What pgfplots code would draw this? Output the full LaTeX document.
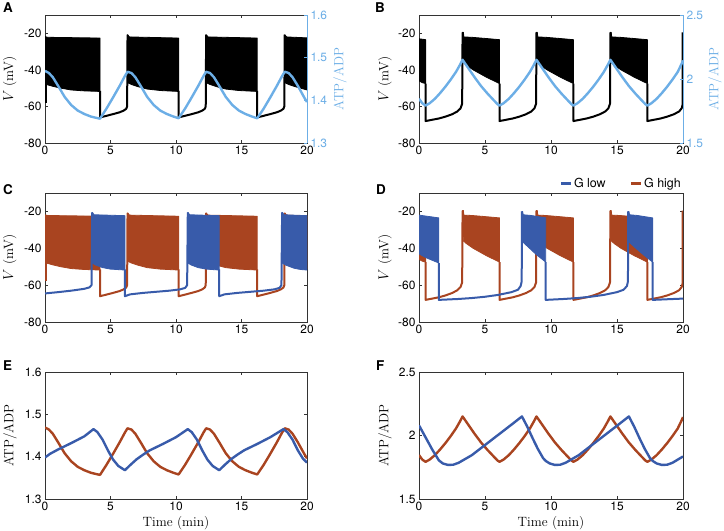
\documentclass[border=0pt]{standalone}
\usepackage{fontspec}
\setsansfont{TeX Gyre Heros}
\usepackage{pgfplots}
\usepackage{pgfplotstable}
\pgfplotsset{compat=1.18}

\definecolor{ltblue}{RGB}{108,174,230}
\definecolor{gblue}{RGB}{56,91,170}
\definecolor{gred}{RGB}{169,68,32}

\newcommand\tl{\sffamily\fontsize{12}{14}\selectfont}
\newcommand\lb{\fontsize{13.5}{15}\selectfont}

\pgfplotstableread{
x y
0 1.469
0.3 1.464
0.6 1.454
1.0 1.434
1.5 1.408
2.0 1.389
2.5 1.376
3.0 1.368
3.5 1.362
3.9 1.359
4.2 1.357
4.7 1.381
5.2 1.407
5.7 1.434
6.1 1.457
6.3 1.467
6.6 1.464
6.9 1.454
7.3 1.434
7.8 1.408
8.3 1.389
8.8 1.376
9.3 1.368
9.8 1.362
10.2 1.358
10.7 1.381
11.2 1.407
11.7 1.434
12.1 1.457
12.3 1.467
12.6 1.464
12.9 1.454
13.3 1.434
13.8 1.408
14.3 1.389
14.8 1.376
15.3 1.368
15.8 1.362
16.2 1.358
16.7 1.381
17.2 1.407
17.7 1.434
18.1 1.457
18.3 1.467
18.6 1.464
18.9 1.454
19.3 1.434
19.8 1.406
20 1.396
}\atpHighOne

\pgfplotstableread{
x y
0 1.398
0.4 1.407
1 1.417
2 1.432
3 1.448
3.7 1.465
4.0 1.458
4.4 1.440
4.8 1.415
5.2 1.393
5.6 1.378
6.1 1.368
6.5 1.380
7 1.394
7.5 1.405
8 1.415
9 1.430
10 1.446
10.9 1.465
11.2 1.458
11.6 1.440
12.0 1.415
12.4 1.393
12.8 1.378
13.3 1.368
13.7 1.380
14.2 1.394
14.7 1.405
15.2 1.415
16.2 1.430
17.2 1.446
18.2 1.465
18.5 1.458
18.9 1.440
19.3 1.415
19.7 1.395
20 1.386
}\atpLowOne

\pgfplotstableread{
x y
0 1.846
0.25 1.810
0.5 1.793
0.8 1.810
1.2 1.845
1.6 1.890
2.0 1.940
2.4 1.995
2.8 2.055
3.1 2.110
3.3 2.150
3.7 2.090
4.2 2.015
4.7 1.945
5.2 1.885
5.7 1.830
5.95 1.803
6.1 1.793
6.4 1.810
6.8 1.845
7.2 1.890
7.6 1.940
8.0 1.995
8.4 2.055
8.7 2.110
8.9 2.150
9.3 2.090
9.8 2.015
10.3 1.945
10.8 1.885
11.3 1.830
11.55 1.803
11.7 1.793
12.0 1.810
12.4 1.845
12.8 1.890
13.2 1.940
13.6 1.995
14.0 2.055
14.3 2.110
14.5 2.150
14.9 2.090
15.4 2.015
15.9 1.945
16.4 1.885
16.9 1.830
17.15 1.803
17.3 1.793
17.6 1.810
18.0 1.845
18.4 1.890
18.8 1.940
19.2 1.995
19.6 2.055
19.9 2.120
20 2.145
}\atpHighTwo

\pgfplotstableread{
x y
0 2.080
0.5 1.985
1.0 1.890
1.5 1.805
1.8 1.780
2.2 1.768
2.6 1.770
3 1.785
4 1.845
5 1.925
6 2.005
7 2.085
7.8 2.150
8.2 2.070
8.6 1.980
9.0 1.895
9.4 1.822
9.6 1.800
9.9 1.780
10.3 1.768
10.7 1.770
11.1 1.785
12.1 1.845
13.1 1.925
14.1 2.005
15.1 2.085
15.9 2.150
16.3 2.070
16.7 1.980
17.1 1.895
17.5 1.822
17.7 1.800
18.0 1.780
18.4 1.768
18.8 1.770
19.2 1.785
20 1.835
}\atpLowTwo

\pgfplotsset{
  panel/.style={scale only axis, anchor=south west, xmin=0, xmax=20, xtick={0,5,10,15,20},
    tick align=inside, major tick length=3bp,
    axis line style={black!80, line width=0.7bp},
    every tick/.style={black!80, line width=0.6bp},
    tick label style={font=\tl},
    /pgf/number format/assume math mode=true,
    label style={font=\lb}},
  vpanel/.style={panel, ymin=-80, ymax=-10, ytick={-80,-60,-40,-20}, ylabel={$V$ (mV)}},
  rightatp/.style={scale only axis, anchor=south west, xmin=0, xmax=20,
    axis x line=none, axis y line*=right, y axis line style={ltblue, line width=0.8bp, -},
    every outer y axis line/.append style={-},
    tick align=inside, major tick length=3bp,
    ytick style={ltblue, line width=0.6bp},
    yticklabel style={ltblue, font=\tl},
    /pgf/number format/assume math mode=true,
    ylabel={ATP/ADP}, ylabel style={ltblue, font=\lb, anchor=center}},
  sline/.style={line width=2.0bp, line join=round},
  burst/.style={line width=0.8bp, line join=round},
  atp/.style={line width=2.4bp, line join=round},
}

\begin{document}
\begin{tikzpicture}
\path[use as bounding box] (0,0) rectangle (724bp,531bp);

% ---------------- A ----------------
\begin{axis}[vpanel, at={(45bp,388bp)}, width=262bp, height=128bp, ytick pos=left,
  ylabel style={at={(axis description cs:-0.134,0.5)}, anchor=center}]
\addplot[burst, fill=black, draw=black] coordinates {(0,-21.8)(0.2,-22.2)(4.2,-22.6)(4.2,-51.8)(3,-51.5)(2,-51)(1.2,-50)(0.6,-49)(0,-47.8)} -- cycle;
\addplot[burst, fill=black, draw=black] coordinates {(6.3,-20.8)(6.45,-22)(10.2,-22.6)(10.2,-51.8)(8.8,-51.3)(7.8,-50.5)(7.1,-49.2)(6.6,-48)(6.3,-47)} -- cycle;
\addplot[burst, fill=black, draw=black] coordinates {(12.3,-20.8)(12.45,-22)(16.2,-22.6)(16.2,-51.8)(14.8,-51.3)(13.8,-50.5)(13.1,-49.2)(12.6,-48)(12.3,-47)} -- cycle;
\addplot[burst, fill=black, draw=black] coordinates {(18.3,-20.8)(18.45,-22)(20,-22.5)(20,-51)(19.8,-50.6)(19.1,-49.2)(18.6,-48)(18.3,-47)} -- cycle;
\addplot[sline, black] coordinates {(0.05,-47)(0.05,-58)};
\addplot[sline, black] coordinates {(4.2,-51.5)(4.2,-66)(4.6,-65.3)(5.2,-64.2)(5.7,-63.2)(6.0,-62.3)(6.2,-61.3)(6.27,-60)(6.3,-20.8)};
\addplot[sline, black] coordinates {(10.2,-51.5)(10.2,-66)(10.6,-65.3)(11.2,-64.2)(11.7,-63.2)(12.0,-62.3)(12.2,-61.3)(12.27,-60)(12.3,-20.8)};
\addplot[sline, black] coordinates {(16.2,-51.5)(16.2,-66)(16.6,-65.3)(17.2,-64.2)(17.7,-63.2)(18.0,-62.3)(18.2,-61.3)(18.27,-60)(18.3,-20.8)};
\end{axis}
\begin{axis}[rightatp, at={(45bp,388bp)}, width=262bp, height=128bp,
  ymin=1.3, ymax=1.6, ytick={1.3,1.4,1.5,1.6},
  ylabel style={at={(axis description cs:1.126,0.5)}}]
\addplot[atp, ltblue] table {\atpHighOne};
\end{axis}

% ---------------- B ----------------
\begin{axis}[vpanel, at={(419bp,388bp)}, width=264bp, height=128bp, ytick pos=left,
  ylabel style={at={(axis description cs:-0.129,0.5)}, anchor=center}]
\addplot[burst, fill=black, draw=black] coordinates {(0,-23)(0.5,-23.5)(0.5,-47.5)(0.25,-47)(0,-46)} -- cycle;
\addplot[burst, fill=black, draw=black] coordinates {(3.3,-19.5)(3.36,-19.5)(3.4,-22)(4,-22.2)(5,-22.8)(6.1,-23.5)(6.1,-47.5)(5.1,-44)(4.1,-40)(3.6,-37.5)(3.36,-36)} -- cycle;
\addplot[burst, fill=black, draw=black] coordinates {(8.9,-19.5)(8.96,-19.5)(9.0,-22)(9.6,-22.2)(10.6,-22.8)(11.7,-23.5)(11.7,-47.5)(10.7,-44)(9.7,-40)(9.2,-37.5)(8.96,-36)} -- cycle;
\addplot[burst, fill=black, draw=black] coordinates {(14.5,-19.5)(14.56,-19.5)(14.6,-22)(15.2,-22.2)(16.2,-22.8)(17.3,-23.5)(17.3,-47.5)(16.3,-44)(15.3,-40)(14.8,-37.5)(14.56,-36)} -- cycle;
\addplot[sline, black] coordinates {(0.5,-47.5)(0.5,-68)(1,-67.3)(1.5,-66.6)(2,-65.6)(2.5,-64.3)(2.9,-62.8)(3.15,-61)(3.27,-58.5)(3.3,-19.5)};
\addplot[sline, black] coordinates {(6.1,-47.5)(6.1,-68)(6.6,-67.3)(7.1,-66.6)(7.6,-65.6)(8.1,-64.3)(8.5,-62.8)(8.75,-61)(8.87,-58.5)(8.9,-19.5)};
\addplot[sline, black] coordinates {(11.7,-47.5)(11.7,-68)(12.2,-67.3)(12.7,-66.6)(13.2,-65.6)(13.7,-64.3)(14.1,-62.8)(14.35,-61)(14.47,-58.5)(14.5,-19.5)};
\addplot[sline, black] coordinates {(17.3,-47.5)(17.3,-68)(17.8,-67.3)(18.3,-66.6)(18.8,-65.6)(19.3,-64.3)(19.7,-62.8)(19.9,-61)(19.97,-59)(19.97,-19.5)};
\end{axis}
\begin{axis}[rightatp, at={(419bp,388bp)}, width=264bp, height=128bp,
  ymin=1.5, ymax=2.5, ytick={1.5,2,2.5},
  ylabel style={at={(axis description cs:1.121,0.5)}}]
\addplot[atp, ltblue] table {\atpHighTwo};
\end{axis}

% ---------------- C ----------------
\begin{axis}[vpanel, at={(45bp,209bp)}, width=262bp, height=129bp,
  ylabel style={at={(axis description cs:-0.134,0.5)}, anchor=center}]
% G high (red)
\addplot[burst, fill=gred, draw=gred] coordinates {(0,-21.8)(0.2,-22.2)(4.2,-22.6)(4.2,-51.8)(3,-51.5)(2,-51)(1.2,-50)(0.6,-49)(0,-47.8)} -- cycle;
\addplot[burst, fill=gred, draw=gred] coordinates {(6.3,-20.8)(6.45,-22)(10.2,-22.6)(10.2,-51.8)(8.8,-51.3)(7.8,-50.5)(7.1,-49.2)(6.6,-48)(6.3,-47)} -- cycle;
\addplot[burst, fill=gred, draw=gred] coordinates {(12.3,-20.8)(12.45,-22)(16.2,-22.6)(16.2,-51.8)(14.8,-51.3)(13.8,-50.5)(13.1,-49.2)(12.6,-48)(12.3,-47)} -- cycle;
\addplot[burst, fill=gred, draw=gred] coordinates {(18.3,-20.8)(18.45,-22)(20,-22.5)(20,-51)(19.8,-50.6)(19.1,-49.2)(18.6,-48)(18.3,-47)} -- cycle;
\addplot[sline, gred] coordinates {(0.05,-47)(0.05,-58)};
\addplot[sline, gred] coordinates {(4.2,-51.5)(4.2,-66)(4.6,-65.3)(5.2,-64.2)(5.7,-63.2)(6.0,-62.3)(6.2,-61.3)(6.27,-60)(6.3,-20.8)};
\addplot[sline, gred] coordinates {(10.2,-51.5)(10.2,-66)(10.6,-65.3)(11.2,-64.2)(11.7,-63.2)(12.0,-62.3)(12.2,-61.3)(12.27,-60)(12.3,-20.8)};
\addplot[sline, gred] coordinates {(16.2,-51.5)(16.2,-66)(16.6,-65.3)(17.2,-64.2)(17.7,-63.2)(18.0,-62.3)(18.2,-61.3)(18.27,-60)(18.3,-20.8)};
% G low (blue)
\addplot[burst, fill=gblue, draw=gblue] coordinates {(3.6,-20.5)(3.75,-21.8)(6.1,-22.3)(6.1,-51.8)(5,-51.3)(4.4,-50.5)(3.9,-49.2)(3.6,-48)} -- cycle;
\addplot[burst, fill=gblue, draw=gblue] coordinates {(10.9,-20.5)(11.05,-21.8)(13.3,-22.3)(13.3,-51.8)(12.3,-51.3)(11.7,-50.5)(11.2,-49.2)(10.9,-48)} -- cycle;
\addplot[burst, fill=gblue, draw=gblue] coordinates {(18.1,-20.5)(18.25,-21.8)(20,-22.3)(20,-51.8)(19.5,-51.5)(19,-50.8)(18.4,-49.2)(18.1,-48)} -- cycle;
\addplot[sline, gblue] coordinates {(0,-64.5)(1,-63.8)(2,-63)(3,-62)(3.4,-61.2)(3.55,-60)(3.6,-20.5)};
\addplot[sline, gblue] coordinates {(6.1,-51.5)(6.1,-66)(6.5,-65)(7.5,-64.2)(8.5,-63.6)(9.5,-63)(10.3,-62.3)(10.7,-61.5)(10.85,-60)(10.9,-20.5)};
\addplot[sline, gblue] coordinates {(13.3,-51.5)(13.3,-66)(13.7,-65)(14.7,-64.2)(15.7,-63.6)(16.7,-63)(17.5,-62.3)(17.9,-61.5)(18.05,-60)(18.1,-20.5)};
\end{axis}

% ---------------- D ----------------
\begin{axis}[vpanel, at={(419bp,209bp)}, width=264bp, height=129bp,
  ylabel style={at={(axis description cs:-0.129,0.5)}, anchor=center},
  legend columns=2,
  legend style={at={(axis description cs:1,1)}, anchor=south east, yshift=2bp, draw=none, fill=none,
    font=\sffamily\fontsize{12.5}{14}\selectfont, inner sep=0pt, /tikz/every even column/.append style={column sep=22bp}},
  legend image code/.code={\draw (0bp,0bp) -- (10bp,0bp);}]
% G high (red)
\addplot[forget plot, burst, fill=gred, draw=gred] coordinates {(0,-23)(0.5,-23.5)(0.5,-47.5)(0.25,-47)(0,-46)} -- cycle;
\addplot[forget plot, burst, fill=gred, draw=gred] coordinates {(3.3,-19.5)(3.36,-19.5)(3.4,-22)(4,-22.2)(5,-22.8)(6.1,-23.5)(6.1,-47.5)(5.1,-44)(4.1,-40)(3.6,-37.5)(3.36,-36)} -- cycle;
\addplot[forget plot, burst, fill=gred, draw=gred] coordinates {(8.9,-19.5)(8.96,-19.5)(9.0,-22)(9.6,-22.2)(10.6,-22.8)(11.7,-23.5)(11.7,-47.5)(10.7,-44)(9.7,-40)(9.2,-37.5)(8.96,-36)} -- cycle;
\addplot[forget plot, burst, fill=gred, draw=gred] coordinates {(14.5,-19.5)(14.56,-19.5)(14.6,-22)(15.2,-22.2)(16.2,-22.8)(17.3,-23.5)(17.3,-47.5)(16.3,-44)(15.3,-40)(14.8,-37.5)(14.56,-36)} -- cycle;
\addplot[forget plot, sline, gred] coordinates {(0.5,-47.5)(0.5,-68)(1,-67.3)(1.5,-66.6)(2,-65.6)(2.5,-64.3)(2.9,-62.8)(3.15,-61)(3.27,-58.5)(3.3,-19.5)};
\addplot[forget plot, sline, gred] coordinates {(6.1,-47.5)(6.1,-68)(6.6,-67.3)(7.1,-66.6)(7.6,-65.6)(8.1,-64.3)(8.5,-62.8)(8.75,-61)(8.87,-58.5)(8.9,-19.5)};
\addplot[forget plot, sline, gred] coordinates {(11.7,-47.5)(11.7,-68)(12.2,-67.3)(12.7,-66.6)(13.2,-65.6)(13.7,-64.3)(14.1,-62.8)(14.35,-61)(14.47,-58.5)(14.5,-19.5)};
\addplot[forget plot, sline, gred] coordinates {(17.3,-47.5)(17.3,-68)(17.8,-67.3)(18.3,-66.6)(18.8,-65.6)(19.3,-64.3)(19.7,-62.8)(19.9,-61)(19.97,-59)(19.97,-19.5)};
% G low (blue)
\addplot[forget plot, burst, fill=gblue, draw=gblue] coordinates {(0,-22)(1.5,-23.5)(1.5,-48)(1,-46.5)(0.5,-45)(0,-43)} -- cycle;
\addplot[forget plot, burst, fill=gblue, draw=gblue] coordinates {(7.8,-20)(7.85,-20)(7.9,-21.8)(8.5,-22.2)(9.6,-23.5)(9.6,-47.5)(8.9,-43.5)(8.3,-39.5)(7.85,-36.5)} -- cycle;
\addplot[forget plot, burst, fill=gblue, draw=gblue] coordinates {(15.85,-20)(15.9,-20)(15.95,-21.8)(16.55,-22.2)(17.7,-23.5)(17.7,-47.5)(17,-43.5)(16.35,-39.5)(15.9,-36.5)} -- cycle;
\addplot[forget plot, sline, gblue] coordinates {(1.5,-48)(1.5,-68)(3,-67.5)(4,-67)(5,-66.3)(6,-65.3)(7,-63.8)(7.5,-62.5)(7.7,-60.5)(7.78,-58)(7.8,-20)};
\addplot[forget plot, sline, gblue] coordinates {(9.6,-47.5)(9.6,-68)(11,-67.5)(12,-67)(13,-66.3)(14,-65.3)(15,-63.8)(15.5,-62.5)(15.75,-60.5)(15.83,-58)(15.85,-20)};
\addplot[forget plot, sline, gblue] coordinates {(17.7,-47.5)(17.7,-68)(19,-67.6)(20,-67.3)};
\addlegendimage{gblue, line width=2.4bp}
\addlegendentry{G low}
\addlegendimage{gred, line width=2.4bp}
\addlegendentry{G high}
\end{axis}

% ---------------- E ----------------
\begin{axis}[panel, at={(45bp,32bp)}, width=262bp, height=127bp,
  ymin=1.3, ymax=1.6, ytick={1.3,1.4,1.5,1.6}, ylabel={ATP/ADP}, xlabel={Time (min)},
  ylabel style={at={(axis description cs:-0.134,0.5)}, anchor=center},
  xlabel style={at={(axis description cs:0.5,-0.189)}, anchor=center}]
\addplot[atp, gred] table {\atpHighOne};
\addplot[atp, gblue] table {\atpLowOne};
\end{axis}

% ---------------- F ----------------
\begin{axis}[panel, at={(419bp,32bp)}, width=264bp, height=127bp,
  ymin=1.5, ymax=2.5, ytick={1.5,2,2.5}, ylabel={ATP/ADP}, xlabel={Time (min)},
  ylabel style={at={(axis description cs:-0.129,0.5)}, anchor=center},
  xlabel style={at={(axis description cs:0.5,-0.189)}, anchor=center}]
\addplot[atp, gred] table {\atpHighTwo};
\addplot[atp, gblue] table {\atpLowTwo};
\end{axis}

% panel letters
\begin{scope}[every node/.style={anchor=north west, inner sep=0pt, font=\sffamily\bfseries\fontsize{13.5}{14}\selectfont}]
\node at (3bp,528bp) {A};
\node at (375bp,528bp) {B};
\node at (3bp,347bp) {C};
\node at (376bp,347bp) {D};
\node at (3bp,171bp) {E};
\node at (376bp,171bp) {F};
\end{scope}
\end{tikzpicture}
\end{document}
